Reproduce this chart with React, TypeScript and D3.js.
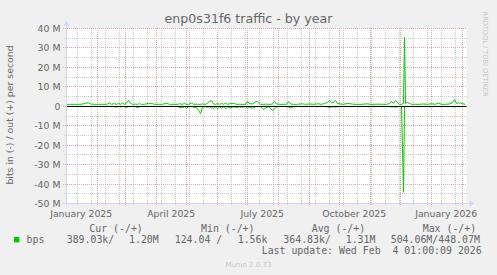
import React, { useEffect } from 'react';
import * as d3 from 'd3';

const W = 497;
const H = 275;

// days since 2025-01-01 (UTC)
const days = [0,1,4,8,12,16,19,22,24,28,32,36,40,43,45,48,50,52,54,56,58,60,62,64,66,69,71,73,75,78,82,85,88,92,96,100,103,107,111,113,116,118,120,122,125,127,130,132,134,136,139,141,143,145,147,149,151,153,155,157,159,161,164,167,170,173,176,179,181,183,186,189,191,194,197,199,202,204,206,208,210,213,217,220,222,224,227,231,235,239,243,247,251,255,258,261,263,265,267,269,271,274,277,281,284,288,292,296,300,304,308,312,316,320,323,325,327,329,331,333,335,337,338,339,341,343,345,349,353,357,361,365,369,372,375,379,383,386,388,390,393,396,399];
// out (+) in Mbit/s
const outValues = [1.0,1.0,1.0,1.0,1.0,1.1,1.6,1.8,1.2,1.0,1.0,1.0,1.0,1.7,1.0,1.4,0.9,1.5,1.0,1.6,1.0,1.8,3.0,1.6,1.0,1.1,1.0,1.3,1.0,1.0,1.5,1.5,1.0,1.0,1.0,1.6,1.0,1.0,1.0,1.3,1.0,1.5,1.0,1.0,1.7,1.0,1.1,1.0,1.0,1.2,1.0,1.6,2.5,3.0,1.2,1.0,1.4,1.0,1.5,1.0,1.6,1.0,1.4,1.5,1.0,1.0,1.0,1.0,2.5,1.3,1.3,2.2,2.5,1.0,1.0,1.1,1.0,1.0,1.2,2.5,1.2,1.0,1.0,1.0,2.5,1.2,1.0,1.0,1.3,1.0,1.2,1.0,1.3,1.0,1.4,2.0,3.0,1.8,2.2,3.0,1.5,1.2,1.0,1.5,1.3,1.0,1.0,1.0,1.3,1.0,1.0,1.1,1.0,1.0,1.3,2.5,1.5,3.0,2.0,1.0,1.0,1.5,35.5,1.5,2.0,1.5,1.0,1.0,1.0,1.2,1.0,1.3,1.0,1.7,1.0,1.0,1.2,2.0,3.5,1.5,1.8,1.3,1.0];
// in (-) in Mbit/s
const inValues = [-0.1,-0.1,-0.1,-0.1,-0.1,-0.1,-0.1,-0.1,-0.1,-0.1,-0.1,-0.1,-0.1,-0.1,-0.1,-0.2,-0.4,-0.1,-0.3,-0.1,-0.2,-0.6,-0.2,-0.1,-0.1,-0.1,-0.7,-0.2,-0.1,-0.1,-0.1,-0.1,-0.1,-0.1,-0.1,-0.1,-0.1,-0.1,-0.1,-0.6,-0.8,-0.2,-1.0,-0.3,-0.1,-0.4,-0.8,-2.0,-3.8,-0.5,-0.1,-0.6,-0.2,-0.8,-1.0,-0.4,-1.3,-0.3,-1.0,-0.2,-1.3,-0.4,-0.8,-0.3,-0.7,-0.2,-0.6,-0.1,-0.9,-0.3,-1.0,-0.2,-0.1,-0.2,-1.6,-0.9,-0.2,-1.0,-2.2,-1.4,-0.3,-0.1,-0.1,-0.2,-0.3,-1.0,-0.2,-0.1,-0.1,-0.2,-0.1,-0.1,-0.2,-0.1,-0.1,-0.3,-0.7,-0.3,-0.2,-0.5,-0.2,-0.1,-0.1,-0.1,-0.2,-0.1,-0.2,-0.1,-0.1,-0.2,-0.1,-0.1,-0.2,-0.1,-0.1,-0.4,-0.2,-0.5,-0.2,-0.1,-0.1,-44.2,-0.3,-0.2,-0.1,-0.1,-0.1,-0.1,-0.2,-0.1,-0.1,-0.2,-0.1,-0.1,-0.2,-0.1,-0.1,-0.2,-0.3,-0.1,-0.1,-0.1,-0.1];

const yTicks = [40, 30, 20, 10, 0, -10, -20, -30, -40, -50];
const yTickLabels = ['40 M', '30 M', '20 M', '10 M', '0', '-10 M', '-20 M', '-30 M', '-40 M', '-50 M'];
const xLabelMonths = [[2025, 0], [2025, 3], [2025, 6], [2025, 9], [2026, 0]];
const xLabelTexts = ['January 2025', 'April 2025', 'July 2025', 'October 2025', 'January 2026'];

const title = 'enp0s31f6 traffic - by year';
const yAxisTitle = 'bits in (-) / out (+) per second';
const legendHeaders = ['Cur (-/+)', 'Min (-/+)', 'Avg (-/+)', 'Max (-/+)'];
const legendName = 'bps';
const legendValues = ['389.03k/', '1.20M', '124.04 /', '1.56k', '364.83k/', '1.31M', '504.06M/448.07M'];
const lastUpdate = 'Last update: Wed Feb  4 01:00:09 2026';
const footer = 'Munin 2.0.73';
const watermark = 'RRDTOOL / TOBI OETIKER';

const DAY = 86400000;
const jan1 = Date.UTC(2025, 0, 1);
const start = Date.UTC(2024, 11, 31, 1);
const end = Date.UTC(2026, 1, 4, 1);

export default function App() {
  useEffect(() => {
    document.body.style.margin = '0';
  }, []);

  const L = 66.5, R = 466.5, T = 28.5, B = 203.5;
  const x = d3.scaleUtc().domain([new Date(start), new Date(end)]).range([L - (jan1 - start) / DAY, L - (jan1 - start) / DAY + 400]);
  const y = d3.scaleLinear().domain([-50, 40]).range([B, T]);
  const snap = (v: number) => Math.round(v - 0.5) + 0.5;

  const dates = days.map((d) => new Date(jan1 + d * DAY));
  const line = d3.line<number>().x((_, i) => x(dates[i])).y((v) => y(v));

  const major = '#eda3a3';
  const minor = '#cccccc';
  const axisCol = '#CFD6F8';
  const font = '"DejaVu Sans", sans-serif';
  const mono = '"DejaVu Sans Mono", monospace';
  const fc = '#666666';

  // grid
  const yMinor = d3.range(-45, 40, 10);
  const monthLines = d3.utcMonth.range(new Date(jan1), new Date(end));
  const weekLines = d3.range(11, 400, 14).map((d) => new Date(jan1 + d * DAY));

  const legendHeaderX = [89.3, 201, 311.7, 422.7];
  const legendValueX = [66.7, 129, 174.7, 237.7, 283.3, 345.7, 390.7];

  return (
    <svg width={W} height={H} style={{ position: 'absolute', left: 0, top: 0, display: 'block' }}>
      <rect x={0} y={0} width={W} height={H} fill="#f0f0f0" />
      <rect x={L} y={T - 0.5} width={R - L} height={B - T + 0.5} fill="#ffffff" />
      {/* minor horizontal */}
      {yMinor.map((v) => (
        <line key={'hm' + v} x1={64} x2={467} y1={snap(y(v))} y2={snap(y(v))} stroke={minor} strokeDasharray="1,1" />
      ))}
      {/* minor vertical */}
      {weekLines.map((d, i) => (
        <line key={'vm' + i} x1={snap(x(d))} x2={snap(x(d))} y1={28} y2={205} stroke={minor} strokeDasharray="1,1" />
      ))}
      {/* major horizontal */}
      {yTicks.map((v) => (
        <line key={'hM' + v} x1={63} x2={467} y1={snap(y(v))} y2={snap(y(v))} stroke={major} strokeDasharray="1,1" />
      ))}
      {/* major vertical */}
      {monthLines.map((d, i) => (
        <line key={'vM' + i} x1={snap(x(d))} x2={snap(x(d))} y1={28} y2={206} stroke={major} strokeDasharray="1,1" />
      ))}
      {/* data */}
      <path d={line(outValues) || ''} fill="none" stroke="#00cc00" strokeWidth={1} />
      <path d={line(inValues) || ''} fill="none" stroke="#00cc00" strokeWidth={1} />
      {/* zero line */}
      <line x1={L} x2={R} y1={snap(y(0))} y2={snap(y(0))} stroke="#000" strokeWidth={1} />
      {/* axes */}
      <line x1={L - 3} x2={R + 3} y1={B} y2={B} stroke={axisCol} />
      <path d={`M${R + 3},${B - 3}L${R + 8},${B}L${R + 3},${B + 3}Z`} fill={axisCol} />
      <line x1={L} x2={L} y1={B + 3} y2={T - 3} stroke={axisCol} />
      <path d={`M${L - 3},${T - 3}L${L},${T - 8}L${L + 3},${T - 3}Z`} fill={axisCol} />
      {/* y tick labels */}
      {yTicks.map((v, i) => (
        <text key={'yl' + v} x={60.5} y={snap(y(v)) + 3.5} textAnchor="end" fontFamily={font} fontSize={9.33} fill={fc}>
          {yTickLabels[i]}
        </text>
      ))}
      {/* x labels */}
      {xLabelMonths.map(([yy, mm], i) => (
        <text key={'xl' + i} x={x(new Date(Date.UTC(yy, mm, 16))) - 0.3} y={216.5} textAnchor="middle" fontFamily={font} fontSize={9.33} fill={fc}>
          {xLabelTexts[i]}
        </text>
      ))}
      {/* title */}
      <text x={248.5} y={23} textAnchor="middle" fontFamily={font} fontSize={12.6} fill={fc}>{title}</text>
      <text transform="translate(12.5,115) rotate(-90)" textAnchor="middle" fontFamily={font} fontSize={9.33} fill={fc}>{yAxisTitle}</text>
      {/* watermark */}
      <text transform="translate(483,54) rotate(90)" textAnchor="middle" fontFamily={font} fontSize={6.6} fill="#c4c4c4">{watermark}</text>
      {/* legend */}
      {legendHeaders.map((t, i) => (
        <text key={'lh' + i} x={legendHeaderX[i]} y={232} fontFamily={mono} fontSize={9.9} fill={fc} style={{ whiteSpace: 'pre' }}>{t}</text>
      ))}
      <rect x={14} y={237} width={5.4} height={5.4} fill="#00cc00" />
      <text x={26.5} y={243} fontFamily={mono} fontSize={9.9} fill={fc}>{legendName}</text>
      {legendValues.map((t, i) => (
        <text key={'lv' + i} x={legendValueX[i]} y={243} fontFamily={mono} fontSize={9.9} fill={fc} style={{ whiteSpace: 'pre' }}>{t}</text>
      ))}
      <text x={261.7} y={254.2} fontFamily={mono} fontSize={9.9} fill={fc} style={{ whiteSpace: 'pre' }}>{lastUpdate}</text>
      <text x={248.5} y={266.5} textAnchor="middle" fontFamily={font} fontSize={7} fill="#c8c8c8">{footer}</text>
    </svg>
  );
}
